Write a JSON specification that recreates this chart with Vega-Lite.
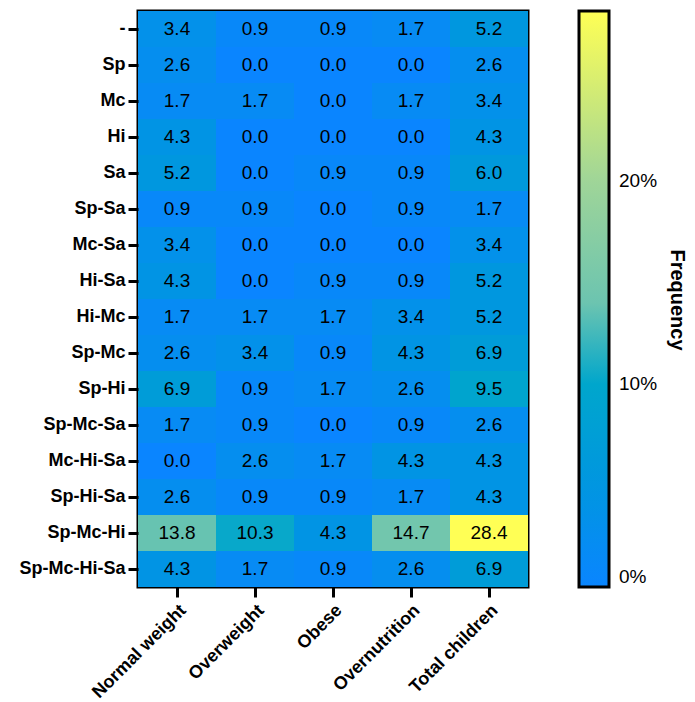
{
  "$schema": "https://vega.github.io/schema/vega-lite/v6.json",
  "autosize": {"type": "none"},
  "padding": {"left": 138, "top": 11, "right": 167, "bottom": 115},
  "width": 390,
  "height": 576,
  "config": {
    "font": "Liberation Sans",
    "view": {"stroke": "black", "strokeWidth": 3},
    "axis": {"grid": false, "domain": false, "tickColor": "black", "tickWidth": 3, "tickSize": 10, "labelColor": "black", "labelFontWeight": "bold", "labelFontSize": 18, "labelFont": "Liberation Sans", "labelPadding": 3, "title": null}
  },
  "data": {"values": [
    {"c":"-","g":"Normal weight","v":3.4},{"c":"-","g":"Overweight","v":0.9},{"c":"-","g":"Obese","v":0.9},{"c":"-","g":"Overnutrition","v":1.7},{"c":"-","g":"Total children","v":5.2},
    {"c":"Sp","g":"Normal weight","v":2.6},{"c":"Sp","g":"Overweight","v":0.0},{"c":"Sp","g":"Obese","v":0.0},{"c":"Sp","g":"Overnutrition","v":0.0},{"c":"Sp","g":"Total children","v":2.6},
    {"c":"Mc","g":"Normal weight","v":1.7},{"c":"Mc","g":"Overweight","v":1.7},{"c":"Mc","g":"Obese","v":0.0},{"c":"Mc","g":"Overnutrition","v":1.7},{"c":"Mc","g":"Total children","v":3.4},
    {"c":"Hi","g":"Normal weight","v":4.3},{"c":"Hi","g":"Overweight","v":0.0},{"c":"Hi","g":"Obese","v":0.0},{"c":"Hi","g":"Overnutrition","v":0.0},{"c":"Hi","g":"Total children","v":4.3},
    {"c":"Sa","g":"Normal weight","v":5.2},{"c":"Sa","g":"Overweight","v":0.0},{"c":"Sa","g":"Obese","v":0.9},{"c":"Sa","g":"Overnutrition","v":0.9},{"c":"Sa","g":"Total children","v":6.0},
    {"c":"Sp-Sa","g":"Normal weight","v":0.9},{"c":"Sp-Sa","g":"Overweight","v":0.9},{"c":"Sp-Sa","g":"Obese","v":0.0},{"c":"Sp-Sa","g":"Overnutrition","v":0.9},{"c":"Sp-Sa","g":"Total children","v":1.7},
    {"c":"Mc-Sa","g":"Normal weight","v":3.4},{"c":"Mc-Sa","g":"Overweight","v":0.0},{"c":"Mc-Sa","g":"Obese","v":0.0},{"c":"Mc-Sa","g":"Overnutrition","v":0.0},{"c":"Mc-Sa","g":"Total children","v":3.4},
    {"c":"Hi-Sa","g":"Normal weight","v":4.3},{"c":"Hi-Sa","g":"Overweight","v":0.0},{"c":"Hi-Sa","g":"Obese","v":0.9},{"c":"Hi-Sa","g":"Overnutrition","v":0.9},{"c":"Hi-Sa","g":"Total children","v":5.2},
    {"c":"Hi-Mc","g":"Normal weight","v":1.7},{"c":"Hi-Mc","g":"Overweight","v":1.7},{"c":"Hi-Mc","g":"Obese","v":1.7},{"c":"Hi-Mc","g":"Overnutrition","v":3.4},{"c":"Hi-Mc","g":"Total children","v":5.2},
    {"c":"Sp-Mc","g":"Normal weight","v":2.6},{"c":"Sp-Mc","g":"Overweight","v":3.4},{"c":"Sp-Mc","g":"Obese","v":0.9},{"c":"Sp-Mc","g":"Overnutrition","v":4.3},{"c":"Sp-Mc","g":"Total children","v":6.9},
    {"c":"Sp-Hi","g":"Normal weight","v":6.9},{"c":"Sp-Hi","g":"Overweight","v":0.9},{"c":"Sp-Hi","g":"Obese","v":1.7},{"c":"Sp-Hi","g":"Overnutrition","v":2.6},{"c":"Sp-Hi","g":"Total children","v":9.5},
    {"c":"Sp-Mc-Sa","g":"Normal weight","v":1.7},{"c":"Sp-Mc-Sa","g":"Overweight","v":0.9},{"c":"Sp-Mc-Sa","g":"Obese","v":0.0},{"c":"Sp-Mc-Sa","g":"Overnutrition","v":0.9},{"c":"Sp-Mc-Sa","g":"Total children","v":2.6},
    {"c":"Mc-Hi-Sa","g":"Normal weight","v":0.0},{"c":"Mc-Hi-Sa","g":"Overweight","v":2.6},{"c":"Mc-Hi-Sa","g":"Obese","v":1.7},{"c":"Mc-Hi-Sa","g":"Overnutrition","v":4.3},{"c":"Mc-Hi-Sa","g":"Total children","v":4.3},
    {"c":"Sp-Hi-Sa","g":"Normal weight","v":2.6},{"c":"Sp-Hi-Sa","g":"Overweight","v":0.9},{"c":"Sp-Hi-Sa","g":"Obese","v":0.9},{"c":"Sp-Hi-Sa","g":"Overnutrition","v":1.7},{"c":"Sp-Hi-Sa","g":"Total children","v":4.3},
    {"c":"Sp-Mc-Hi","g":"Normal weight","v":13.8},{"c":"Sp-Mc-Hi","g":"Overweight","v":10.3},{"c":"Sp-Mc-Hi","g":"Obese","v":4.3},{"c":"Sp-Mc-Hi","g":"Overnutrition","v":14.7},{"c":"Sp-Mc-Hi","g":"Total children","v":28.4},
    {"c":"Sp-Mc-Hi-Sa","g":"Normal weight","v":4.3},{"c":"Sp-Mc-Hi-Sa","g":"Overweight","v":1.7},{"c":"Sp-Mc-Hi-Sa","g":"Obese","v":0.9},{"c":"Sp-Mc-Hi-Sa","g":"Overnutrition","v":2.6},{"c":"Sp-Mc-Hi-Sa","g":"Total children","v":6.9}
  ]},
  "encoding": {
    "x": {"field": "g", "type": "nominal", "sort": null, "scale": {"paddingInner": 0, "paddingOuter": 0}, "axis": {"labelAngle": -45, "labelAlign": "right", "labelBaseline": "top", "labelPadding": 4}},
    "y": {"field": "c", "type": "nominal", "sort": null, "scale": {"paddingInner": 0, "paddingOuter": 0}}
  },
  "layer": [
    {
      "mark": {"type": "rect"},
      "encoding": {
        "color": {
          "field": "v", "type": "quantitative",
          "scale": {"domain": [0, 5, 10, 14, 20, 28.4], "range": ["#0a85ff", "#0096e0", "#00a6cc", "#6cc4b0", "#9fd598", "#ffff55"], "interpolate": "rgb"},
          "legend": {
            "type": "gradient", "direction": "vertical",
            "title": "Frequency", "titleOrient": "right", "titleFontSize": 20, "titleFontWeight": "bold", "titleColor": "black", "titlePadding": 10,
            "values": [0, 10, 20], "labelExpr": "datum.value + '%'", "labelFontSize": 19, "labelColor": "black", "labelOffset": 10,
            "gradientLength": 576, "gradientThickness": 30, "gradientStrokeColor": "black", "gradientStrokeWidth": 3,
            "offset": 51, "padding": 0
          }
        }
      }
    },
    {
      "mark": {"type": "text", "fontSize": 19, "color": "black", "font": "Liberation Sans"},
      "encoding": {"text": {"field": "v", "type": "quantitative", "format": ".1f"}}
    }
  ]
}
